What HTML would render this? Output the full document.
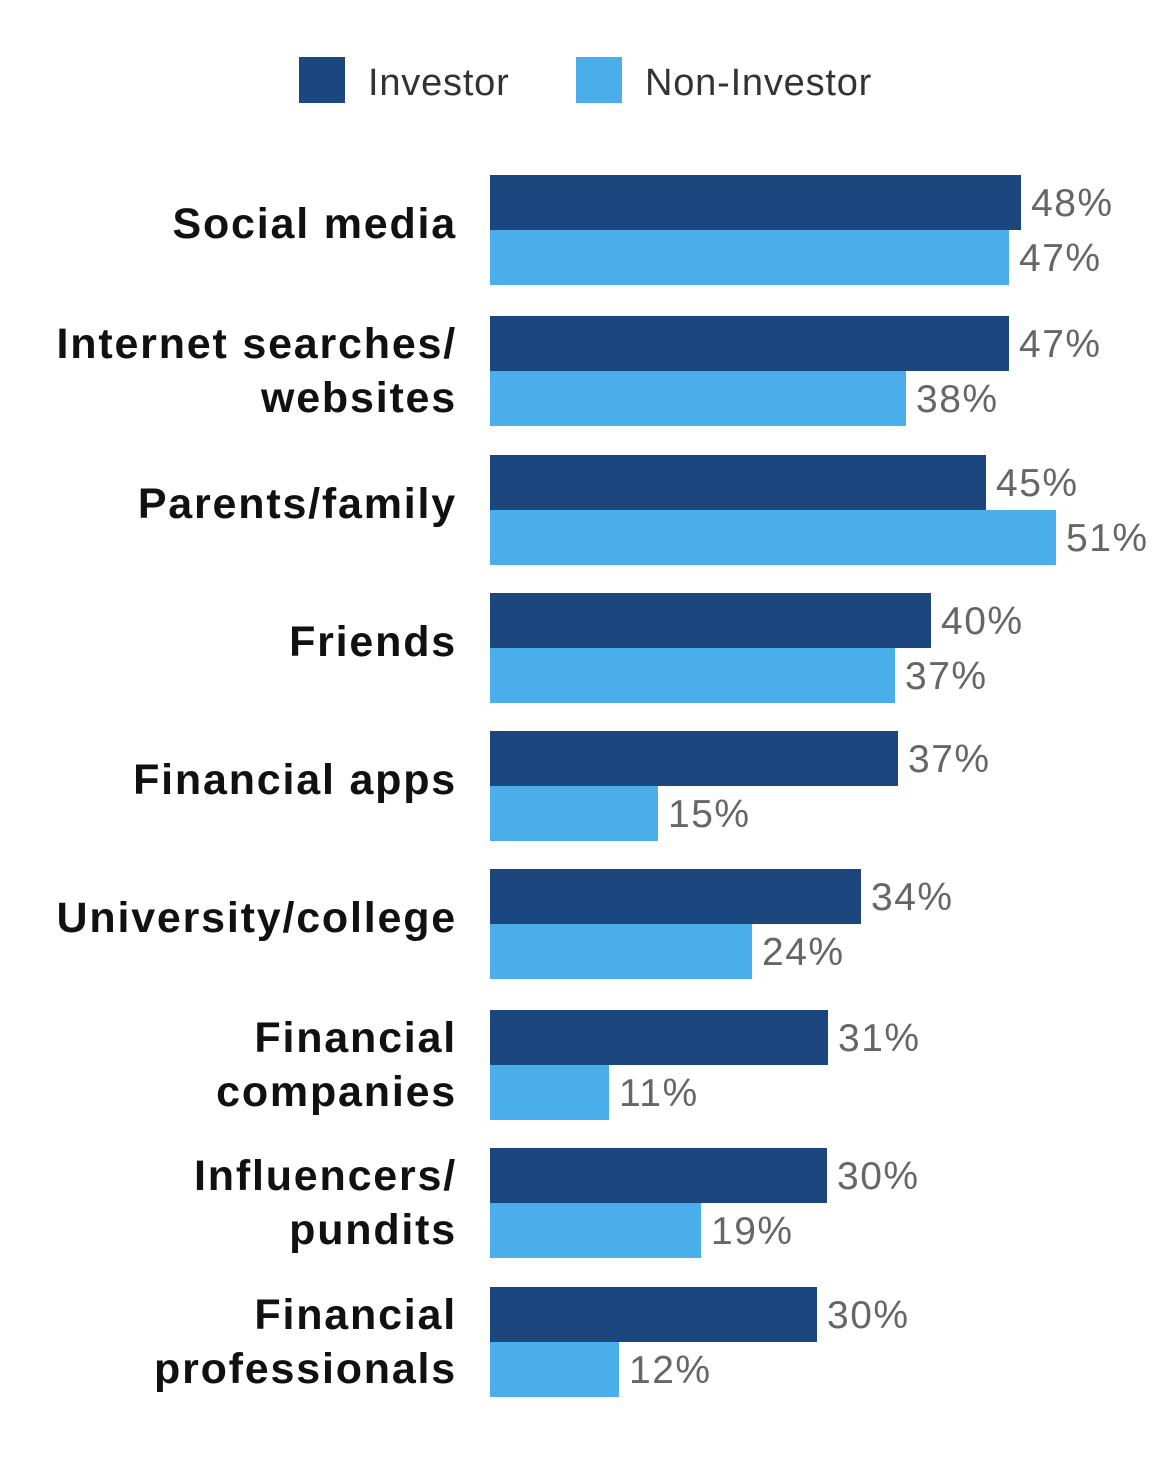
<!DOCTYPE html>
<html><head><meta charset="utf-8"><style>
body{margin:0;width:1176px;height:1477px;background:#fff;position:relative;font-family:"Liberation Sans",sans-serif;overflow:hidden}
.a{position:absolute}
.lab{position:absolute;right:719px;text-align:right;font-size:43px;letter-spacing:1.8px;font-weight:bold;color:#111;line-height:54px;white-space:nowrap}
.b{position:absolute;left:490px;height:55px}
.d{background:#1c467e}.l{background:#4aaeea}
.v{position:absolute;font-size:39px;letter-spacing:1.5px;color:#666;line-height:55px;white-space:nowrap}
</style></head><body>
<div class="a" style="left:299px;top:57px;width:46px;height:46px;background:#1c467e"></div>
<div class="a" style="left:368px;top:58px;font-size:38px;letter-spacing:0.8px;color:#333;line-height:50px">Investor</div>
<div class="a" style="left:576px;top:57px;width:46px;height:46px;background:#4aaeea"></div>
<div class="a" style="left:645px;top:58px;font-size:38px;letter-spacing:0.8px;color:#333;line-height:50px">Non-Investor</div>
<div id="c"></div>
<script>
var d=[["Social media",48,47,175,1021,1009],["Internet searches/<br>websites",47,38,316,1009,906],["Parents/family",45,51,455,986,1056],["Friends",40,37,593,931,895],["Financial apps",37,15,731,898,658],["University/college",34,24,869,861,752],["Financial<br>companies",31,11,1010,828,609],["Influencers/<br>pundits",30,19,1148,827,701],["Financial<br>professionals",30,12,1287,817,619]];
var h="";
d.forEach(function(r){var y=r[3];var two=r[0].indexOf("<br>")>0;
h+='<div class="lab" style="top:'+(two?y+1:y+22)+'px">'+r[0]+'</div>';
var w1=r[4]-490,w2=r[5]-490;
h+='<div class="b d" style="top:'+y+'px;width:'+w1+'px"></div>';
h+='<div class="b l" style="top:'+(y+55)+'px;width:'+w2+'px"></div>';
h+='<div class="v" style="top:'+(y+1)+'px;left:'+(490+w1+10)+'px">'+r[1]+'%</div>';
h+='<div class="v" style="top:'+(y+56)+'px;left:'+(490+w2+10)+'px">'+r[2]+'%</div>';});
document.getElementById("c").innerHTML=h;
</script>
</body></html>
